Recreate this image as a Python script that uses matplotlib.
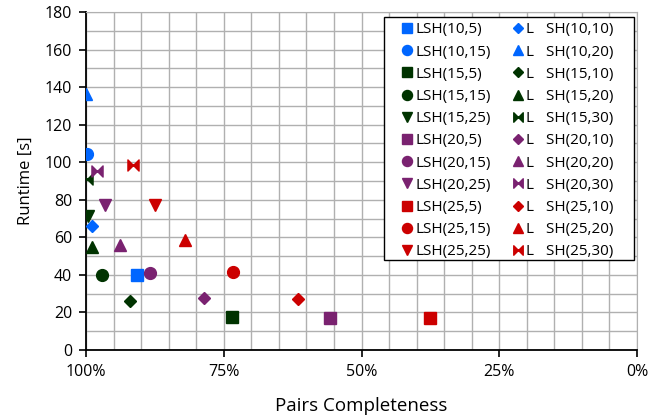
import numpy as np
import matplotlib
matplotlib.use("Agg")
import matplotlib.pyplot as plt
from matplotlib.path import Path
from matplotlib.patches import Rectangle
from matplotlib.ticker import MultipleLocator, FuncFormatter

plt.rcParams['font.family'] = ['Open Sans', 'DejaVu Sans']

# LSH(bands, rows) runs
lsh_labels = ['LSH(10,5)', 'LSH(10,15)', 'LSH(15,5)', 'LSH(15,15)', 'LSH(15,25)',
              'LSH(20,5)', 'LSH(20,15)', 'LSH(20,25)', 'LSH(25,5)', 'LSH(25,15)',
              'LSH(25,25)']
lsh_pc = [90.7, 99.9, 73.5, 97.1, 99.7, 55.7, 88.4, 96.6, 37.6, 73.4, 87.5]
lsh_rt = [40.0, 104.4, 17.4, 40.1, 71.5, 16.9, 40.8, 77.2, 17.2, 41.5, 77.0]

# SH runs (legend text as printed in the source figure)
sh_labels = ['L   SH(10,10)', 'L   SH(10,20)', 'L   SH(15,10)', 'L   SH(15,20)',
             'L   SH(15,30)', 'L   SH(20,10)', 'L   SH(20,20)', 'L   SH(20,30)',
             'L   SH(25,10)', 'L   SH(25,20)', 'L   SH(25,30)']
sh_pc = [98.9, 100.0, 92.0, 99.0, 99.9, 78.6, 93.8, 98.0, 61.6, 82.0, 91.4]
sh_rt = [65.9, 136.2, 26.3, 55.0, 90.9, 27.7, 55.9, 95.3, 27.2, 58.6, 98.5]

BLUE, GREEN, PURPLE, RED = '#0066ff', '#003300', '#7a2270', '#cc0000'

# bowtie marker: two triangles meeting at the centre
bowtie = Path([(-1, -1), (0, 0), (-1, 1), (-1, -1),
               (1, -1), (0, 0), (1, 1), (1, -1)],
              [Path.MOVETO, Path.LINETO, Path.LINETO, Path.CLOSEPOLY] * 2)

lsh_style = [(BLUE, 's', 8.5), (BLUE, 'o', 8.5), (GREEN, 's', 8.5), (GREEN, 'o', 8.5),
             (GREEN, 'v', 8.5), (PURPLE, 's', 8.5), (PURPLE, 'o', 8.5), (PURPLE, 'v', 8.5),
             (RED, 's', 8.5), (RED, 'o', 8.5), (RED, 'v', 8.5)]
sh_style = [(BLUE, 'D', 6), (BLUE, '^', 8.5), (GREEN, 'D', 6), (GREEN, '^', 8.5),
            (GREEN, bowtie, 8), (PURPLE, 'D', 6), (PURPLE, '^', 8.5), (PURPLE, bowtie, 8),
            (RED, 'D', 6), (RED, '^', 8.5), (RED, bowtie, 8)]

fig = plt.figure(figsize=(6.55, 4.19), dpi=100)
ax = fig.add_axes([86 / 655, 1 - 350 / 419, 551 / 655, 338 / 419])

for lab, x, y, (c, m, s) in zip(lsh_labels, lsh_pc, lsh_rt, lsh_style):
    ax.plot(x, y, ls='none', marker=m, ms=s, color=c, mec=c, label=lab, zorder=3)
for lab, x, y, (c, m, s) in zip(sh_labels, sh_pc, sh_rt, sh_style):
    ax.plot(x, y, ls='none', marker=m, ms=s, color=c, mec=c, label=lab, zorder=3)

ax.set_xlim(100, 0)
ax.set_ylim(0, 180)
ax.xaxis.set_major_locator(MultipleLocator(25))
ax.xaxis.set_minor_locator(MultipleLocator(5))
ax.yaxis.set_major_locator(MultipleLocator(20))
ax.yaxis.set_minor_locator(MultipleLocator(10))
ax.xaxis.set_major_formatter(FuncFormatter(lambda v, p: '%d%%' % v))
ax.grid(which='both', color='#b0b0b0', lw=1)
ax.set_axisbelow(True)
ax.tick_params(which='major', direction='out', length=5, width=1.2, labelsize=11.5,
               color='black', pad=5)
ax.tick_params(which='minor', length=0)
for side in ['top', 'right']:
    ax.spines[side].set_color('#b0b0b0')
for side in ['left', 'bottom']:
    ax.spines[side].set_linewidth(1.3)

ax.set_xlabel('Pairs Completeness', fontsize=13.5, labelpad=12)
ax.set_ylabel('Runtime [s]', fontsize=12, labelpad=8)

# legend box drawn separately so the horizontal padding can be wider
box = Rectangle((0.541, 0.266), 0.4535, 0.719, transform=ax.transAxes,
                facecolor='white', edgecolor='black', lw=1, zorder=4)
ax.add_patch(box)
leg = ax.legend(ncol=2, loc='upper left', bbox_to_anchor=(0.541, 0.985),
                fontsize=11, frameon=False, handlelength=2.3, handletextpad=-0.6,
                labelspacing=0.47, columnspacing=0.6, borderpad=0.35,
                borderaxespad=0, markerscale=0.85)
leg.set_zorder(5)

fig.savefig('out.png', dpi=100)
